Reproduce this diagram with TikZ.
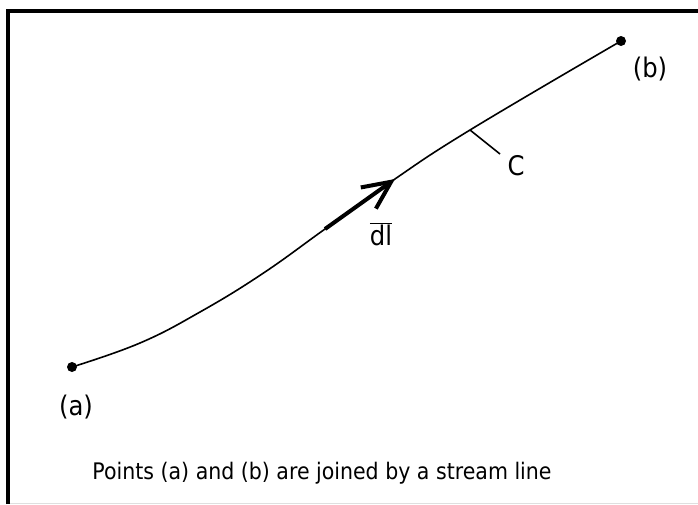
\documentclass[tikz,border=0pt]{standalone}
\usepackage{fontspec}
\setmainfont{DejaVu Sans}[FakeStretch=0.9]
\usetikzlibrary{arrows.meta,calc}
\begin{document}
\begin{tikzpicture}[x=1pt,y=-1pt,
  dot/.style={circle,fill=black,inner sep=0pt,minimum size=10pt},
  lbl/.style={inner sep=0pt,font=\fontsize{27}{30}\selectfont},
  captext/.style={inner sep=0pt,font=\fontsize{22.8}{26}\selectfont},
  curve/.style={line width=1.6pt},
  frame/.style={line width=4pt}]
\useasboundingbox (0,0) rectangle (698,504);
\draw[frame] (8,504) -- (8,11) -- (698,11);
\draw[gray!25,line width=1pt] (10,503) -- (698,503);
\node[dot] (a) at (72,367) {};
\node[dot] (b) at (621,41) {};
\coordinate (p1) at (140,343);
\coordinate (p2) at (200,312);
\coordinate (p3) at (262,274);
\coordinate (ds) at (325,229);
\coordinate (de) at (392,181);
\coordinate (tk) at (470,130);
\coordinate (tc) at (500,154);
\coordinate (dt) at (395,179);
\draw[curve] plot[smooth,tension=0.7] coordinates {(72,367) (p1) (p2) (p3) (ds) (de) (tk) (621,41)};
\draw[line width=4pt,-{Straight Barb[length=28pt,width=26pt]}] (ds) -- (dt);
\draw[curve] (tk) -- (tc);
\node[lbl] (la) at (76,407) {(a)};
\node[lbl] (lb) at (650,69) {(b)};
\node[lbl] (lc) at (516,166) {C};
\node[lbl] (ldl) at (381,234) {$\overline{\hbox{dl}}$};
\node[captext] (cp) at (322,473) {Points (a) and (b) are joined by a stream line};
\end{tikzpicture}
\end{document}
